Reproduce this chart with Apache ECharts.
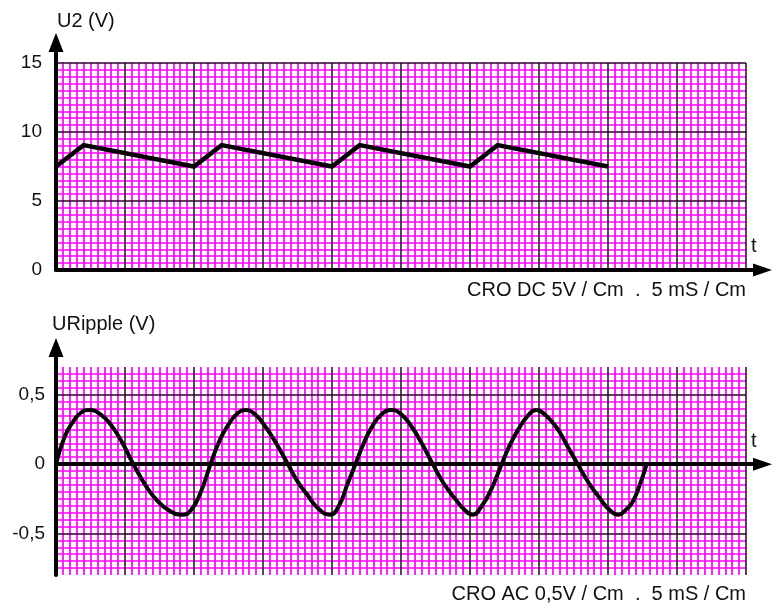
<!DOCTYPE html>
<html><head><meta charset="utf-8">
<script src="https://cdn.jsdelivr.net/npm/echarts@6/dist/echarts.min.js"></script>
<style>html,body{margin:0;padding:0;background:#fff}#c{width:779px;height:608px}</style>
</head><body><div id="c"></div>
<script>
// ---- Data (time in ms, voltage in V) ----
const u2Time = [0, 2, 10, 12, 20, 22, 30, 32, 40];
const u2Volt = [7.5, 9.05, 7.5, 9.05, 7.5, 9.05, 7.5, 9.05, 7.5];

const rippleTime = [
  0, 0.6, 1.2, 1.8, 2.4,
  3.2, 4.0, 4.8, 5.6, 6.5, 7.3, 8.2, 9.15,
  9.8, 10.5, 11.2, 11.9, 12.6, 13.2, 13.7,
  14.4, 15.1, 15.95, 16.8, 17.5, 18.2, 19.0, 19.85,
  20.5, 21.1, 21.7, 22.3, 22.9, 23.6, 24.3,
  25.0, 25.7, 26.5, 27.3, 28.1, 29.0, 29.6, 30.2,
  30.8, 31.5, 32.3, 32.9, 33.5, 34.2, 34.8,
  35.5, 36.3, 37.0, 37.8, 38.6, 39.4, 40.1, 40.75,
  41.3, 41.8, 42.3, 42.8];
const rippleVolt = [
  0, 0.19, 0.30, 0.37, 0.39,
  0.36, 0.28, 0.155, 0, -0.155, -0.26, -0.335, -0.365,
  -0.33, -0.2, 0, 0.18, 0.3, 0.37, 0.39,
  0.36, 0.28, 0.15, 0, -0.125, -0.22, -0.32, -0.365,
  -0.3, -0.15, 0, 0.15, 0.27, 0.36, 0.39,
  0.36, 0.28, 0.15, 0, -0.14, -0.26, -0.33, -0.365,
  -0.31, -0.19, 0, 0.14, 0.25, 0.35, 0.39,
  0.35, 0.26, 0.14, 0, -0.135, -0.245, -0.33, -0.365,
  -0.33, -0.27, -0.15, 0];

const u2Ticks = [0, 5, 10, 15];
const rippleTicks = [-0.5, 0, 0.5];
const timeMax = 50;

const texts = {
  u2Name: 'U2 (V)',
  rippleName: 'URipple (V)',
  tName: 't',
  u2Caption: 'CRO DC 5V / Cm  .  5 mS / Cm',
  rippleCaption: 'CRO AC 0,5V / Cm  .  5 mS / Cm'
};

// ---- Styles ----
const FONT = '"Liberation Sans", Arial, sans-serif';
const TXT = '#111';
const MAJOR = { color: '#2b002b', width: 1.5 };
const MINOR = { color: '#ff00ff', width: 1.7 };

const pair = (xs, ys) => xs.map((x, i) => [x, ys[i]]);
const fmt = v => String(v).replace('.', ',');
const hidden = { axisLine: { show: false }, axisTick: { show: false } };

function paperXMinor(gi) {
  return Object.assign({
    gridIndex: gi, type: 'value', min: 0, max: timeMax, interval: 5, position: 'bottom', z: 0,
    axisLabel: { show: false }, splitLine: { show: false },
    minorTick: { show: false, splitNumber: 10 },
    minorSplitLine: { show: true, lineStyle: MINOR }
  }, hidden);
}
function paperXMajor(gi) {
  return Object.assign({
    gridIndex: gi, type: 'value', min: 0, max: timeMax, interval: 5, position: 'top', z: 1,
    axisLabel: { show: false }, splitLine: { show: true, lineStyle: MAJOR }
  }, hidden);
}
function arrowX(gi, max) {
  return {
    gridIndex: gi, type: 'value', min: 0, max: max, z: 5,
    axisLine: { show: true, onZero: true, symbol: ['none', 'triangle'], symbolSize: [13, 19],
      lineStyle: { color: '#000', width: 4 } },
    axisTick: { show: false }, axisLabel: { show: false }, splitLine: { show: false }
  };
}
function arrowY(gi, min, max) {
  return {
    gridIndex: gi, type: 'value', min: min, max: max, z: 5,
    axisLine: { show: true, onZero: false, symbol: ['none', 'triangle'], symbolSize: [15, 19],
      lineStyle: { color: '#000', width: 4 } },
    axisTick: { show: false }, axisLabel: { show: false }, splitLine: { show: false }
  };
}
const labelStyle = { fontSize: 19, fontFamily: FONT, color: TXT };

const option = {
  animation: false,
  backgroundColor: '#fff',
  grid: [
    { left: 56, right: 33, top: 63, bottom: 338 },     // top paper
    { left: 56, right: 16.5, top: 42.5, bottom: 338 }, // top arrows
    { left: 56, right: 33, top: 367, bottom: 33 },     // bottom paper
    { left: 56, right: 16.5, top: 347.5, bottom: 33 }  // bottom arrows
  ],
  xAxis: [
    paperXMinor(0), paperXMajor(0), arrowX(1, 51.2),
    paperXMinor(2), paperXMajor(2), arrowX(3, 51.2)
  ],
  yAxis: [
    Object.assign({
      gridIndex: 0, type: 'value', min: u2Ticks[0], max: u2Ticks[u2Ticks.length - 1], interval: 5,
      position: 'left', z: 0,
      axisLabel: Object.assign({ show: true, margin: 14, padding: [3, 0, 0, 0], formatter: fmt }, labelStyle),
      splitLine: { show: false },
      minorTick: { show: false, splitNumber: 10 },
      minorSplitLine: { show: true, lineStyle: MINOR }
    }, hidden),
    Object.assign({
      gridIndex: 0, type: 'value', min: u2Ticks[0], max: u2Ticks[u2Ticks.length - 1], interval: 5,
      position: 'right', z: 1, axisLabel: { show: false },
      splitLine: { show: true, lineStyle: MAJOR }
    }, hidden),
    arrowY(1, 0, 17.2),
    Object.assign({
      gridIndex: 2, type: 'value', min: -0.8, max: 0.7, splitNumber: 3, position: 'left', z: 0,
      axisLabel: Object.assign({ show: true, margin: 11, padding: [2, 0, 0, 0],
        showMinLabel: false, showMaxLabel: false,
        formatter: v => rippleTicks.some(t => Math.abs(t - v) < 1e-6) ? fmt(v) : '' }, labelStyle),
      splitLine: { show: false },
      minorTick: { show: false, splitNumber: 10 },
      minorSplitLine: { show: true, lineStyle: MINOR }
    }, hidden),
    Object.assign({
      gridIndex: 2, type: 'value', min: -0.8, max: 0.7, splitNumber: 3, position: 'right', z: 1,
      axisLabel: { show: false },
      splitLine: { show: true, showMinLine: false, showMaxLine: false, lineStyle: MAJOR }
    }, hidden),
    arrowY(3, -0.8, 0.842)
  ],
  series: [
    {
      type: 'line', xAxisIndex: 0, yAxisIndex: 0, z: 3,
      data: pair(u2Time, u2Volt), showSymbol: false, symbol: 'none',
      lineStyle: { color: '#000', width: 4.5, join: 'miter' }, clip: false
    },
    {
      type: 'line', xAxisIndex: 3, yAxisIndex: 3, z: 3,
      data: pair(rippleTime, rippleVolt), showSymbol: false, symbol: 'none', smooth: 0.5,
      lineStyle: { color: '#000', width: 4 }, clip: false
    }
  ],
  graphic: [
    { type: 'text', left: 57, top: 11, z: 10, style: { text: texts.u2Name, font: '20px ' + FONT, fill: TXT } },
    { type: 'text', left: 751, top: 236, z: 10, style: { text: texts.tName, font: '20px ' + FONT, fill: TXT } },
    { type: 'text', right: 33, top: 280, z: 10, style: { text: texts.u2Caption, font: '20px ' + FONT, fill: TXT } },
    { type: 'text', left: 52, top: 314, z: 10, style: { text: texts.rippleName, font: '20px ' + FONT, fill: TXT } },
    { type: 'text', left: 751, top: 431, z: 10, style: { text: texts.tName, font: '20px ' + FONT, fill: TXT } },
    { type: 'text', right: 33, top: 584, z: 10, style: { text: texts.rippleCaption, font: '20px ' + FONT, fill: TXT } }
  ]
};

const chart = echarts.init(document.getElementById('c'), null, { renderer: 'canvas' });
chart.setOption(option);
</script>
</body></html>
